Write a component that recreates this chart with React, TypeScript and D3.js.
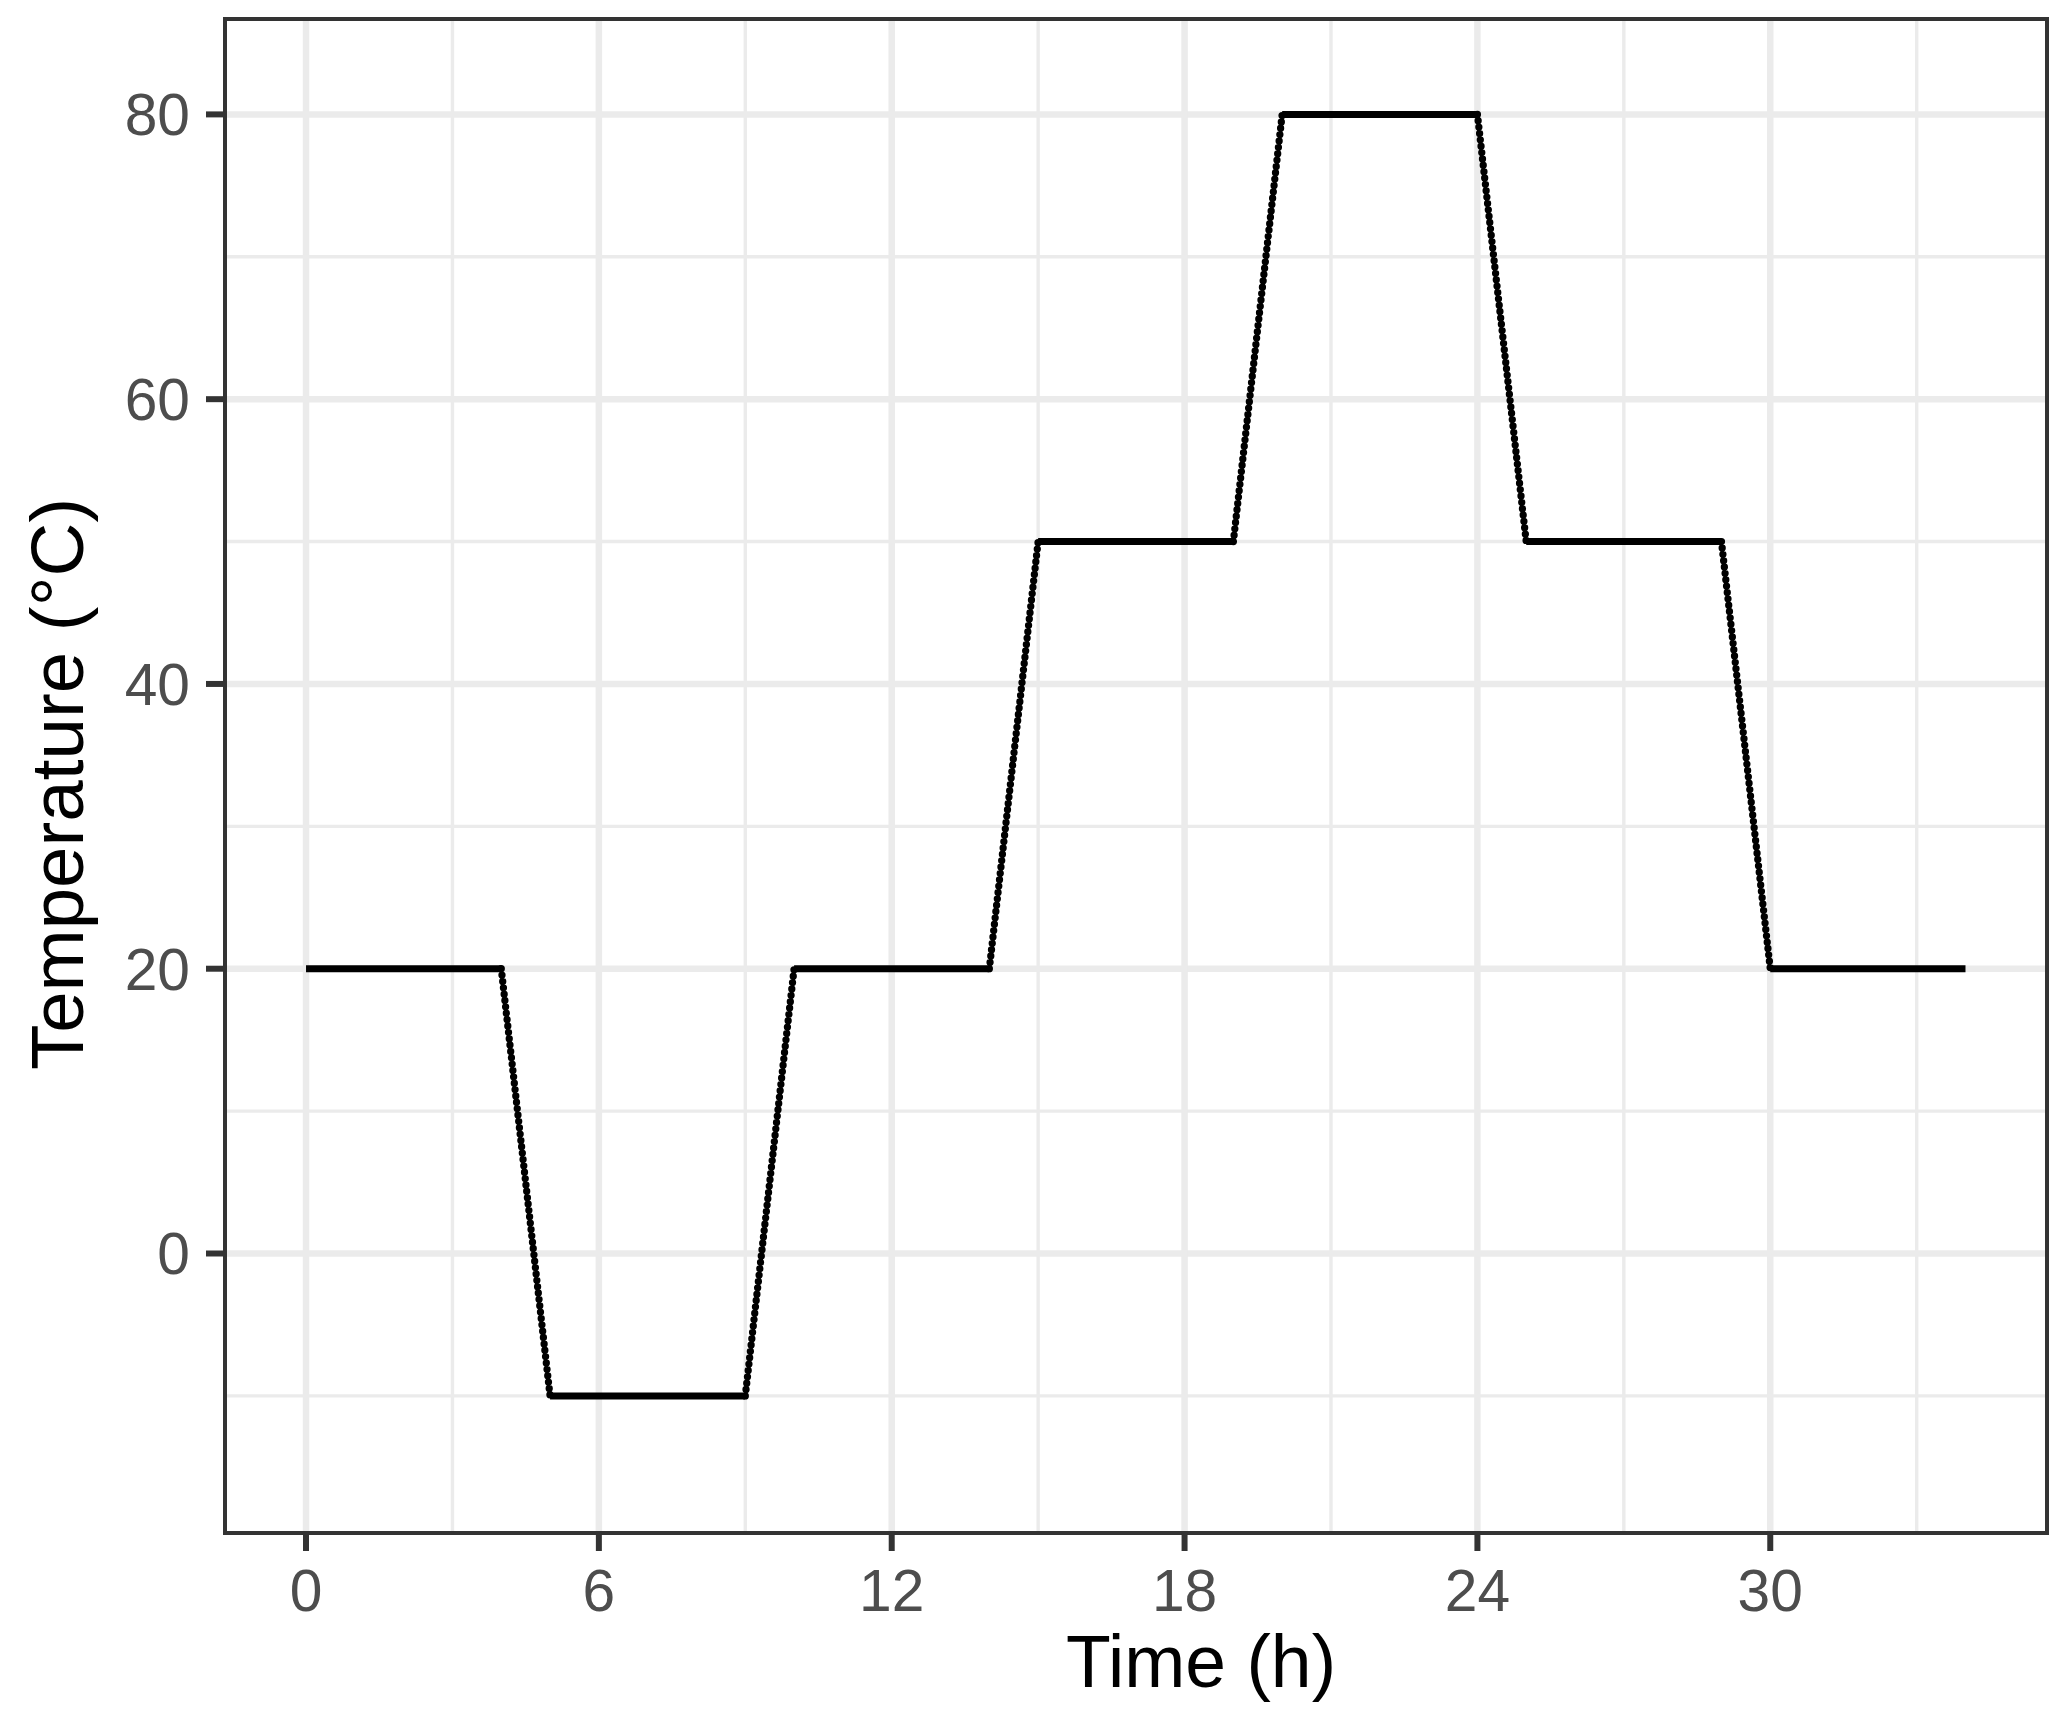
import React from 'react';
import * as d3 from 'd3';

// temperature profile breakpoints
const hours = [0, 4, 5, 9, 10, 14, 15, 19, 20, 24, 25, 29, 30, 34];
const temps = [20, 20, -10, -10, 20, 20, 50, 50, 80, 80, 50, 50, 20, 20];

const xTicks = [0, 6, 12, 18, 24, 30];
const xMinor = [3, 9, 15, 21, 27, 33];
const yTicks = [0, 20, 40, 60, 80];
const yMinor = [-10, 10, 30, 50, 70];

export default function App() {
  const W = 2067;
  const H = 1720;
  const left = 225, right = 2047, top = 19, bottom = 1533;

  const x = d3.scaleLinear().domain([-1.66, 35.67]).range([left, right]);
  const y = d3.scaleLinear().domain([-19.63, 86.7]).range([bottom, top]);

  const pts: [number, number][] = hours.map((h, i) => [h, temps[i]]);
  const line = d3.line<[number, number]>()
    .x(d => x(d[0]))
    .y(d => y(d[1]));

  // flat holds are drawn solid, ramps look like a chain of dots
  const segs = d3.pairs(pts);
  const flats = segs.filter(([a, b]) => a[1] === b[1]);
  const ramps = segs.filter(([a, b]) => a[1] !== b[1]);

  const font = '"Liberation Sans", Arial, sans-serif';

  return (
    <svg width={W} height={H} style={{ position: 'absolute', left: 0, top: 0, background: '#fff' }}
      fontFamily={font}>
      <rect x={0} y={0} width={W} height={H} fill="#fff" />
      {/* grid */}
      <g stroke="#EBEBEB">
        {yMinor.map(v => (
          <line key={'ym' + v} x1={left} x2={right} y1={y(v)} y2={y(v)} strokeWidth={3.4} />
        ))}
        {xMinor.map(v => (
          <line key={'xm' + v} x1={x(v)} x2={x(v)} y1={top} y2={bottom} strokeWidth={3.4} />
        ))}
        {yTicks.map(v => (
          <line key={'yM' + v} x1={left} x2={right} y1={y(v)} y2={y(v)} strokeWidth={6.5} />
        ))}
        {xTicks.map(v => (
          <line key={'xM' + v} x1={x(v)} x2={x(v)} y1={top} y2={bottom} strokeWidth={6.5} />
        ))}
      </g>
      {/* data */}
      <g fill="none" stroke="#000">
        {flats.map((s, i) => (
          <path key={'f' + i} d={line(s) || ''} strokeWidth={7} />
        ))}
        {ramps.map((s, i) => (
          <path key={'r' + i} d={line(s) || ''} strokeWidth={7.3}
            strokeLinecap="round" strokeDasharray="0 6.4" />
        ))}
      </g>
      {/* panel border */}
      <rect x={left} y={top} width={right - left} height={bottom - top}
        fill="none" stroke="#333333" strokeWidth={4} />
      {/* y axis */}
      <g>
        {yTicks.map(v => (
          <g key={'yt' + v}>
            <line x1={206} x2={left} y1={y(v)} y2={y(v)} stroke="#333333" strokeWidth={6} />
            <text x={190} y={y(v) + 21} textAnchor="end" fontSize={58.7} fill="#4D4D4D">{v}</text>
          </g>
        ))}
      </g>
      {/* x axis */}
      <g>
        {xTicks.map(v => (
          <g key={'xt' + v}>
            <line x1={x(v)} x2={x(v)} y1={bottom} y2={bottom + 18} stroke="#333333" strokeWidth={6} />
            <text x={x(v)} y={1611} textAnchor="middle" fontSize={58.7} fill="#4D4D4D">{v}</text>
          </g>
        ))}
      </g>
      <text x={1201} y={1687} textAnchor="middle" fontSize={73.3} fill="#000">Time (h)</text>
      <text transform={`translate(83, 784) rotate(-90)`} textAnchor="middle" fontSize={74.5} fill="#000">
        Temperature (°C)
      </text>
    </svg>
  );
}
